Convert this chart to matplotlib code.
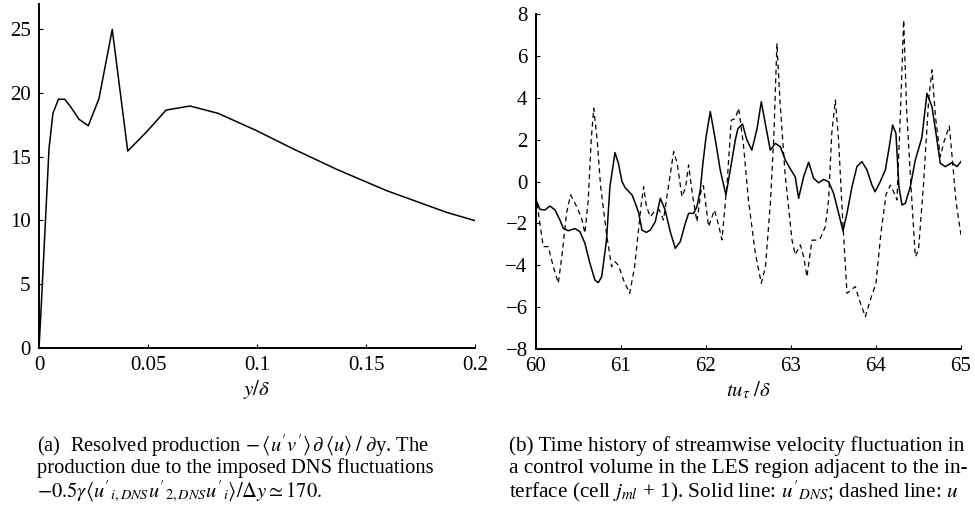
"""
Two-panel figure: resolved production profile (a) and
velocity fluctuation time history at the interface cell (b).
"""
import matplotlib
matplotlib.use("Agg")
import matplotlib.pyplot as plt

plt.rcParams["font.family"] = ["Liberation Serif", "DejaVu Serif"]
plt.rcParams["mathtext.fontset"] = "stix"

# ---------------------------------------------------------------------------
# Data
# ---------------------------------------------------------------------------
# (a) resolved production vs y/delta
Y_DELTA = [0.0, 0.0008, 0.0046, 0.0064, 0.0089, 0.0118, 0.0147, 0.0184,
           0.0226, 0.0275, 0.0336, 0.0407, 0.0494, 0.0583, 0.0693, 0.0822,
           0.0999, 0.1167, 0.1366, 0.1595, 0.187, 0.2]
PRODUCTION = [0.0, 2.5, 15.65, 18.4, 19.5, 19.5, 18.86, 17.92,
              17.42, 19.54, 24.97, 15.44, 16.95, 18.65, 18.97, 18.39,
              17.03, 15.6, 14.0, 12.33, 10.63, 9.98]

# (b) solid line: u'_DNS
T_SOLID = [60.0, 60.047, 60.106, 60.165, 60.224, 60.282, 60.322, 60.38,
           60.459, 60.518, 60.576, 60.635, 60.694, 60.733, 60.773, 60.83,
           60.87, 60.93, 60.97, 61.012, 61.05, 61.13, 61.17, 61.21, 61.247,
           61.298, 61.345, 61.404, 61.463, 61.52, 61.58, 61.639, 61.698,
           61.757, 61.796, 61.855, 61.894, 61.933, 61.965, 62.0, 62.051,
           62.11, 62.168, 62.235, 62.286, 62.345, 62.376, 62.43, 62.48,
           62.54, 62.6, 62.651, 62.698, 62.757, 62.816, 62.875, 62.933,
           63.012, 63.05, 63.09, 63.149, 63.208, 63.267, 63.325, 63.384,
           63.443, 63.502, 63.561, 63.612, 63.659, 63.718, 63.776, 63.835,
           63.894, 63.953, 63.99, 64.05, 64.11, 64.15, 64.196, 64.235,
           64.27, 64.306, 64.345, 64.404, 64.463, 64.54, 64.6, 64.659,
           64.718, 64.757, 64.816, 64.894, 64.953, 65.0]
U_SOLID = [-0.88, -1.33, -1.36, -1.17, -1.36, -1.84, -2.24, -2.35,
           -2.25, -2.4, -2.95, -3.91, -4.71, -4.83, -4.55, -2.8,
           -0.25, 1.38, 0.87, 0.0, -0.3, -0.64, -1.05, -1.52, -2.32,
           -2.43, -2.32, -1.92, -0.8, -1.36, -2.4, -3.19, -2.87,
           -2.0, -1.52, -1.52, -1.2, -0.4, 0.9, 2.1, 3.34,
           2.0, 0.55, -0.64, 0.55, 1.98, 2.53, 2.75, 2.0,
           1.5, 2.5, 3.81, 2.77, 1.5, 1.82, 1.66, 1.03,
           0.47, 0.23, -0.8, 0.23, 0.92, 0.15, -0.06, 0.1,
           -0.01, -0.57, -1.52, -2.35, -1.52, -0.25, 0.71, 0.95,
           0.55, -0.17, -0.49, -0.01, 0.55, 1.5, 2.7, 2.3,
           -0.25, -1.12, -1.04, -0.25, 1.03, 2.1, 4.21, 3.57,
           1.98, 0.87, 0.71, 0.9, 0.71, 0.95]

# (b) dashed line: u
T_DASHED = [60.0, 60.04, 60.086, 60.145, 60.204, 60.263, 60.31, 60.36,
            60.408, 60.48, 60.537, 60.576, 60.615, 60.65, 60.68, 60.72,
            60.76, 60.83, 60.89, 60.93, 60.97, 61.03, 61.102, 61.16,
            61.235, 61.267, 61.3, 61.345, 61.4, 61.45, 61.5, 61.56,
            61.62, 61.66, 61.718, 61.76, 61.796, 61.84, 61.894, 61.94,
            61.97, 62.031, 62.1, 62.15, 62.188, 62.25, 62.298, 62.345,
            62.384, 62.44, 62.5, 62.58, 62.651, 62.7, 62.76, 62.8,
            62.835, 62.87, 62.93, 63.012, 63.05, 63.11, 63.15, 63.188,
            63.247, 63.3, 63.345, 63.404, 63.443, 63.48, 63.522, 63.56,
            63.6, 63.659, 63.7, 63.757, 63.8, 63.875, 63.93, 64.0,
            64.06, 64.12, 64.17, 64.22, 64.247, 64.29, 64.326, 64.36,
            64.41, 64.463, 64.5, 64.56, 64.62, 64.659, 64.7, 64.757,
            64.8, 64.863, 64.9, 64.94, 65.0]
U_DASHED = [-0.64, -1.84, -3.11, -3.11, -4.07, -4.86, -3.4, -1.5,
            -0.64, -1.2, -1.76, -2.47, -0.9, 2.0, 3.5, 2.0,
            -0.2, -2.5, -4.07, -3.83, -4.0, -4.7, -5.34, -4.1,
            -1.2, -0.25, -1.2, -1.68, -1.4, -1.35, -1.84, -0.2,
            1.43, 0.9, -0.72, -0.3, 0.79, -0.6, -1.92, -0.5,
            -0.2, -2.16, -1.36, -2.1, -2.79, 0.0, 2.93, 3.0,
            3.5, 1.8, -0.9, -3.4, -4.86, -4.07, -0.9, 2.3,
            6.6, 3.9, 0.4, -2.79, -3.5, -3.03, -3.6, -4.55,
            -2.8, -2.8, -2.71, -2.16, -0.88, 2.3, 3.89, 2.0,
            -1.2, -5.34, -5.2, -5.02, -5.6, -6.46, -5.7, -4.86,
            -2.4, -0.6, -0.17, -0.6, -0.88, 3.5, 7.71, 3.5,
            -0.1, -3.59, -3.3, -0.1, 3.9, 5.33, 3.1, 1.19,
            1.9, 2.65, 1.0, -0.9, -2.55]

XTICKS_A = [0, 0.05, 0.1, 0.15, 0.2]
XTICKLABELS_A = ["0", "0.05", "0.1", "0.15", "0.2"]
YTICKS_A = [0, 5, 10, 15, 20, 25]
XTICKS_B = [60, 61, 62, 63, 64, 65]
YTICKS_B = [-8, -6, -4, -2, 0, 2, 4, 6, 8]

CAPTION_A = [
    r"(a)  Resolved production $-\,\langle u'v'\rangle\,\partial\,\langle u\rangle\;/\;\partial$y. The",
    "production due to the imposed DNS fluctuations",
    r"$-0.5\gamma\langle u'_{i,DNS}u'_{2,DNS}u'_{i}\rangle/\Delta y \simeq 170.$",
]
CAPTION_B = [
    "(b) Time history of streamwise velocity fluctuation in",
    "a control volume in the LES region adjacent to the in-",
    r"terface (cell $j_{ml}$ + 1). Solid line: $u'_{DNS}$; dashed line: $u$",
]


def style_axes(ax):
    for side in ("top", "right"):
        ax.spines[side].set_visible(False)
    for side in ("left", "bottom"):
        ax.spines[side].set_linewidth(1.4)
    ax.tick_params(direction="in", length=3, width=0.8, labelsize=15,
                   pad=6)


fig = plt.figure(figsize=(9.75, 5.08), dpi=100)

# --- panel (a) -------------------------------------------------------------
ax1 = fig.add_axes([0.040, 0.315, 0.4472, 0.678])
ax1.plot(Y_DELTA, PRODUCTION, color="black", linewidth=1.1)
ax1.set_xlim(0, 0.2)
ax1.set_ylim(0, 27)
ax1.set_xticks(XTICKS_A)
ax1.set_xticklabels(XTICKLABELS_A)
ax1.set_yticks(YTICKS_A)
style_axes(ax1)
ax1.set_xlabel(r"$y/\delta$", fontsize=15, labelpad=2)

# --- panel (b) -------------------------------------------------------------
ax2 = fig.add_axes([0.5497, 0.313, 0.4359, 0.6594])
ax2.plot(T_SOLID, U_SOLID, color="black", linewidth=1.1)
ax2.plot(T_DASHED, U_DASHED, color="black", linewidth=0.9,
         dashes=(4, 3))
ax2.set_xlim(60, 65)
ax2.set_ylim(-8, 8)
ax2.set_xticks(XTICKS_B)
ax2.set_yticks(YTICKS_B)
style_axes(ax2)
ax2.set_xlabel(r"$tu_{\tau}\;/\delta$", fontsize=15, labelpad=2)

# --- captions --------------------------------------------------------------
for i, line in enumerate(CAPTION_A):
    fig.text(37 / 975, 1 - (446 + 22.5 * i) / 508, line, fontsize=14.8,
             ha="left", va="center")
for i, line in enumerate(CAPTION_B):
    fig.text(509 / 975, 1 - (446 + 22.5 * i) / 508, line, fontsize=15.3,
             ha="left", va="center")

fig.savefig("out.png", dpi=100)
plt.close("all")
